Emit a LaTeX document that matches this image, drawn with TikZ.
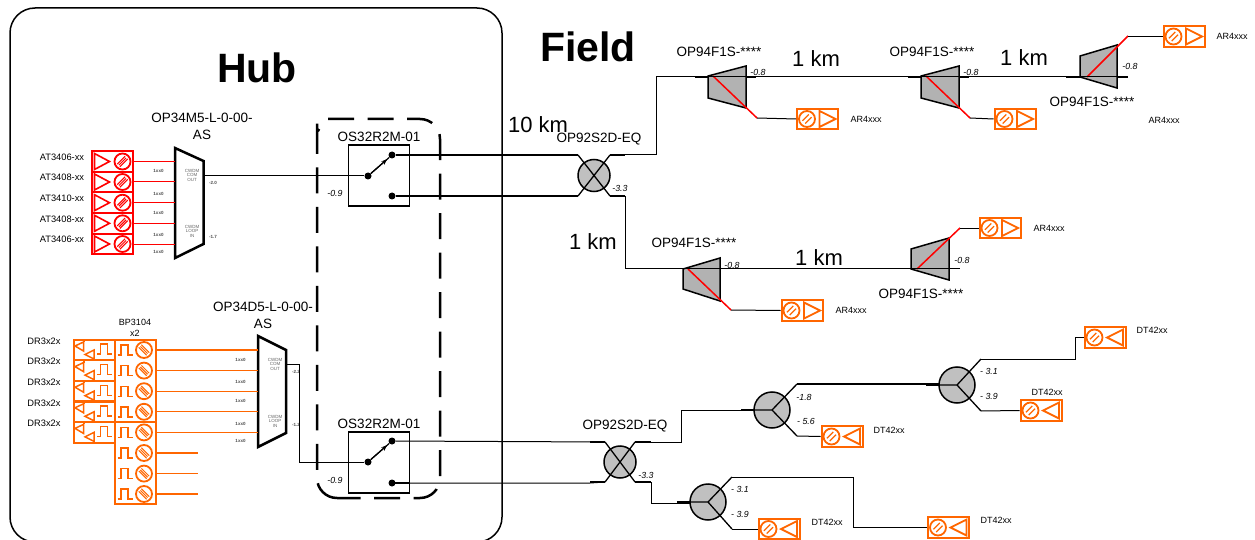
\documentclass[tikz,border=0pt]{standalone}
\usepackage{fontspec}
\setmainfont{Liberation Sans}
\usepackage{xcolor}
\usetikzlibrary{calc,arrows.meta,positioning}
\definecolor{rxorange}{RGB}{255,102,0}
\definecolor{partgray}{RGB}{178,178,178}
\definecolor{bluntgray}{RGB}{192,192,192}
\newcommand{\fsz}[1]{\fontsize{#1}{#1}\selectfont}

\begin{document}
\begin{tikzpicture}[x=1pt,y=-1pt,
  partlbl/.style={font=\fsz{13.5}, inner sep=0pt, align=center},
  kmlbl/.style={font=\fsz{22}, inner sep=0pt},
  titlelbl/.style={font=\fsz{41}\bfseries, inner sep=0pt},
  lvl/.style={font=\fsz{8.8}\itshape, inner sep=0pt},
  txlbl/.style={font=\fsz{9.3}, inner sep=0pt},
  cardlbl/.style={font=\fsz{9}, inner sep=0pt},
  tiny/.style={font=\fsz{4.5}\bfseries, inner sep=0pt, text=black!70},
  muxtxt/.style={font=\fsz{4.5}, inner sep=0pt, align=center, text=black!60},
  fib/.style={line width=1pt},
  thickfib/.style={line width=1.8pt},
  mux/.style={draw, line width=2.5pt, fill=white, line join=miter},
  filt/.style={draw, line width=1.5pt, fill=partgray},
  redtap/.style={red, line width=1.5pt},
  blob/.style={draw, circle, line width=1.5pt, fill=bluntgray, minimum size=#1, inner sep=0pt},
  swbox/.style={draw, line width=1.8pt, minimum width=61pt, minimum height=61pt, inner sep=0pt},
  pin/.style={circle, fill=black, minimum size=7pt, inner sep=0pt},
  card/.style={draw, line width=2pt, minimum width=41pt, minimum height=20.5pt, inner sep=0pt},
  dial/.pic={
    \draw[line width=1.8pt] (0,0) circle (8);
    \draw[line width=1.2pt] (-4.6,1.8) -- (1.8,-4.6) (-1.8,4.6) -- (4.6,-1.8);
  },
  dialr/.pic={
    \draw[line width=1.8pt] (0,0) circle (8);
    \draw[line width=1pt] (-5.2,2.6) -- (2.6,-5.2) (-3.6,3.6) -- (3.6,-3.6) (-2.6,5.2) -- (5.2,-2.6);
  },
  dialb/.pic={
    \draw[line width=1.8pt] (0,0) circle (8);
    \draw[line width=1pt] (-5.2,-2.6) -- (2.6,5.2) (-3.6,-3.6) -- (3.6,3.6) (-2.6,-5.2) -- (5.2,2.6);
  },
  pulse/.pic={
    \draw[line width=1.4pt] (-7.5,5) -- (-4,5) -- (-4,-5) -- (3,-5) -- (3,5) -- (7.5,5);
  },
  arcard/.pic={
    \node[card, draw=rxorange] (-box) at (0,0) {};
    \begin{scope}[rxorange]
      \pic at (-10.5,0) {dial};
      \draw[line width=1.8pt] (2,-8) -- (18,0) -- (2,8) -- cycle;
    \end{scope}
  },
  dtcard/.pic={
    \node[card, draw=rxorange] (-box) at (0,0) {};
    \begin{scope}[rxorange]
      \pic at (-10.5,0) {dial};
      \draw[line width=1.8pt] (18,-8) -- (2,0) -- (18,8) -- cycle;
    \end{scope}
  },
  atcard/.pic={
    \node[card, draw=red] (-box) at (0,0) {};
    \begin{scope}[red]
      \pic at (10,0) {dialr};
      \draw[line width=1.6pt] (-18,-8) -- (-3,0) -- (-18,8) -- cycle;
    \end{scope}
  },
  bpcard/.pic={
    \coordinate (-out) at (20.5,0);
    \begin{scope}[rxorange]
      \pic at (-11,0) {pulse};
      \pic at (8,0) {dialb};
    \end{scope}
  },
  drcard/.pic={
    \node[card, draw=rxorange] (-box) at (0,0) {};
    \begin{scope}[rxorange, line width=1.5pt]
      \draw (-10,-10.2) -- (-10,-8) (0,9) -- (0,10.2);
      \draw (-19,-4) -- (-10.5,-8) -- (-10.5,1) -- cycle;
      \draw (-9,4.5) -- (0,0) -- (0,9) -- cycle;
      \pic at (10.5,-1) {pulse};
    \end{scope}
  }
]
\clip (0,0) rectangle (1255,540);
\useasboundingbox (0,0) rectangle (1255,540);

% hub and dashed protection frame
\draw[line width=1.5pt, rounded corners=25pt] (10,8) rectangle (502,542);
\node[titlelbl] (hublbl) at (257,68) {Hub};
\node[titlelbl] (fieldlbl) at (588,47) {Field};
\draw[line width=2.5pt, dash pattern=on 26pt off 13.5pt, rounded corners=20pt]
  (328,119) -- (440,119) -- (440,498) -- (337,498);
\draw[line width=2.5pt, dash pattern=on 26pt off 13.5pt, rounded corners=20pt]
  (337,498) -- (317,498) -- (317,139) .. controls (317,135) and (318,131) .. (319,129);

% red transmitters
\foreach \n/\y/\t in {1/161.5/AT3406-xx,2/182/AT3408-xx,3/202.7/AT3410-xx,4/223.3/AT3408-xx,5/244/AT3406-xx}{
  \pic (at\n) at (112.5,\y) {atcard};
  \node[txlbl] (atl\n) at (62,\y-4.5) {\t};
}
\draw[mux] (175,148) -- (203.5,161) -- (203.5,244) -- (175,258) -- cycle;
\foreach \n/\y in {1/161.5,2/182,3/202.7,4/223.3,5/244}
  \draw[red, line width=1pt] (at\n-box.east) -- (175,\y);
\foreach \y in {171,194,213,235,252}
  \node[tiny] at (158.5,\y) {1xx0};
\node[muxtxt] (muxaout) at (192,175) {CWDM\\COM\\OUT};
\node[muxtxt] (muxain) at (192,231) {CWDM\\LOOP\\IN};
\node[tiny] at (213,183) {-2.0};
\node[tiny] at (213,237) {-1.7};
\node[partlbl] (muxalbl) at (202,126.5) {OP34M5-L-0-00-\\[3.5pt]AS};

% upper switch
\node[swbox] (swa) at (379,175.5) {};
\node[pin] (swac) at (368,176) {};
\node[pin] (swat) at (392,155) {};
\node[pin] (swab) at (392,196) {};
\draw[fib] (203.5,176) -- (swac);
\draw[line width=1.2pt] (swac) -- (swat);
\draw[-{Stealth[length=6pt]}, line width=1.2pt] (swac) -- ($(swac)!0.8!(swat)$);
\node[partlbl, above=2pt of swa] (swalbl) {OS32R2M-01};
\node[lvl] at (335,193) {-0.9};

% upper coupler
\node[blob=32pt] (cpa) at (594,175.5) {};
\draw[line width=1.3pt] (578,155) -- (610,196) (610,155) -- (578,196);
\draw[line width=1.3pt] (swat) -- (578,155);
\draw[line width=1.3pt] (swab) -- (578,196);
\draw[thickfib] (565,155) -- (578,155) (565,196) -- (578,196);
\node[partlbl] (cpalbl) at (599,139) {OP92S2D-EQ};
\node[kmlbl] (km10) at (538,125) {10 km};
\node[lvl] at (620,188) {-3.3};
\node[kmlbl] (km1a) at (593,242) {1 km};
\draw[thickfib] (610,155) -- (625,155) (610,196) -- (625,196);

% top row of filters
\foreach \dx in {0,213}{
  \draw[filt] ($(708,76)+(\dx,0)$) -- ($(746,66)+(\dx,0)$) -- ($(746,108)+(\dx,0)$) -- ($(708,98)+(\dx,0)$) -- cycle;
  \draw[redtap] ($(713,76)+(\dx,0)$) -- ($(757,118)+(\dx,0)$);
  \node[lvl] at ($(758,72)+(\dx,0)$) {-0.8};
  \node[partlbl] at ($(719,52)+(\dx,0)$) {OP94F1S-****};
}
\draw[filt] (1080,56) -- (1117,45) -- (1117,88) -- (1080,77) -- cycle;
\draw[redtap] (1087,77) -- (1128,36);
\node[lvl] at (1130,66) {-0.8};
\node[partlbl] at (1092,102) {OP94F1S-****};
\draw[fib] (625,155) -- (656,155) -- (656,77) -- (1128,77);
\draw[thickfib] (695,77) -- (708,77) (746,77) -- (756,77) (908,77) -- (921,77) (960,77) -- (969,77) (1066,77) -- (1080,77) (1117,77) -- (1128,77);
\node[kmlbl] (km1b) at (816,59) {1 km};
\node[kmlbl] (km1c) at (1024,58) {1 km};
\pic (ara) at (817.5,119) {arcard};
\pic (arb) at (1015,119) {arcard};
\pic (arc) at (1184,36.5) {arcard};
\draw[fib] (757,118) -- (ara-box.west);
\draw[fib] (970,118) -- (arb-box.west);
\draw[fib] (1128,36.5) -- (arc-box.west);
\node[cardlbl] (aral) at (866,119) {AR4xxx};
\node[cardlbl] (arbl) at (1164,120) {AR4xxx};
\node[cardlbl] (arcl) at (1232,36) {AR4xxx};

% second row of filters
\draw[filt] (683,269) -- (720,258) -- (720,301) -- (683,289) -- cycle;
\draw[redtap] (688,269) -- (731,310);
\draw[filt] (911,249) -- (949,238) -- (949,280) -- (911,269) -- cycle;
\draw[redtap] (917,269) -- (960,228);
\draw[fib] (625,196) -- (625,268.5) -- (960,268.5);
\draw[thickfib] (669,268.5) -- (683,268.5) (720,268.5) -- (731,268.5) (897,268.5) -- (911,268.5) (949,268.5) -- (960,268.5);
\node[partlbl] at (694,243) {OP94F1S-****};
\node[partlbl] at (921,294) {OP94F1S-****};
\node[lvl] at (732,265) {-0.8};
\node[lvl] at (962,260) {-0.8};
\node[kmlbl] (km1d) at (819,258) {1 km};
\pic (ard) at (802,310.5) {arcard};
\pic (are) at (1000,228) {arcard};
\draw[fib] (731,310) -- (ard-box.west);
\draw[fib] (960,228) -- (are-box.west);
\node[cardlbl] (ardl) at (851,310) {AR4xxx};
\node[cardlbl] (arel) at (1049,228) {AR4xxx};

% orange transmit side
\foreach \n/\y/\t in {1/350/DR3x2x,2/370.6/DR3x2x,3/391.2/DR3x2x,4/411.8/DR3x2x,5/432.4/DR3x2x}{
  \pic (dr\n) at (94,\y) {drcard};
  \node[txlbl] (drl\n) at (44,\y-9) {\t};
}
\draw[draw=rxorange, line width=2pt] (115,340) rectangle (156,422) (115,422) rectangle (156,504);
\foreach \n/\y in {1/350,2/370.6,3/391.2,4/411.8,5/432.4,6/453,7/473.6,8/494}
  \pic (bp\n) at (136,\y) {bpcard};
\node[font=\fsz{9}, inner sep=0pt, align=center] (bplbl) at (135,328) {BP3104\\[2pt]x2};
\draw[mux] (258,336) -- (286,350) -- (286,433) -- (258,447) -- cycle;
\foreach \n/\y in {1/350,2/370.6,3/391.2,4/411.8,5/432.4}
  \draw[rxorange, line width=1.1pt] (bp\n-out) -- (258,\y);
\foreach \n in {6,7,8}
  \draw[rxorange, line width=1.1pt] (bp\n-out) -- ++(41,0);
\foreach \y in {360,382,401,424,441}
  \node[tiny] at (240.5,\y) {1xx0};
\node[muxtxt] (muxbout) at (275,364) {CWDM\\COM\\OUT};
\node[muxtxt] (muxbin) at (275,421) {CWDM\\LOOP\\IN};
\node[tiny] at (296,372) {-2.2};
\node[tiny] at (296,425) {-1.2};
\node[partlbl] (muxblbl) at (263,315) {OP34D5-L-0-00-\\[3.5pt]AS};

% lower switch
\node[swbox] (swb) at (379,462.5) {};
\node[pin] (swbc) at (368,462) {};
\node[pin] (swbt) at (392,441) {};
\node[pin] (swbb) at (392,483) {};
\draw[fib] (286,364) -- (299,364) -- (299,462) -- (swbc);
\draw[line width=1.2pt] (swbc) -- (swbt);
\draw[-{Stealth[length=6pt]}, line width=1.2pt] (swbc) -- ($(swbc)!0.8!(swbt)$);
\node[partlbl, above=2pt of swb] (swblbl) {OS32R2M-01};
\node[lvl] at (335,480) {-0.9};

% lower coupler
\node[blob=32pt] (cpb) at (620,462) {};
\draw[line width=1.3pt] (605,442) -- (635,482) (635,442) -- (605,482);
\draw[fib] (swbt) -- (605,442);
\draw[fib] (swbb) -- (590,483) -- (605,482);
\draw[thickfib] (392,483) -- (410,483);
\draw[thickfib] (590,442) -- (605,442) (590,482) -- (605,482);
\node[partlbl] (cpblbl) at (625,426) {OP92S2D-EQ};
\node[lvl] at (646,475) {-3.3};
\draw[thickfib] (635,442) -- (651,442) (635,482) -- (651,482);

% splitters
\node[blob=36pt] (spa) at (772,410) {};
\node[blob=36pt] (spb) at (957,385) {};
\node[blob=36pt] (spc) at (708,502) {};
\draw[line width=1.3pt] (754,410) -- (772,410) -- (797,384);
\draw[line width=1.3pt] (772,410) -- (797,436);
\draw[line width=1.3pt] (939,385) -- (957,385) -- (981,359);
\draw[line width=1.3pt] (957,385) -- (981,411);
\draw[line width=1.3pt] (690,502) -- (708,502) -- (732,477);
\draw[line width=1.3pt] (708,502) -- (732,529);
\draw[fib] (651,442) -- (681,442) -- (681,410) -- (754,410);
\draw[fib] (651,482) -- (651,503) -- (690,503);
\draw[line width=1.3pt] (797,384) -- (939,384);
\draw[thickfib] (741,410) -- (754,410) (926,385) -- (939,385) (677,502) -- (690,502);
\node[lvl] at (804,397) {-1.8};
\node[lvl] at (806,421) {- 5.6};
\node[lvl] at (989,371) {- 3.1};
\node[lvl] at (989,396) {- 3.9};
\node[lvl] at (740,489) {- 3.1};
\node[lvl] at (740,514) {- 3.9};
\pic (dta) at (842,436.5) {dtcard};
\pic (dtb) at (1105,337.5) {dtcard};
\pic (dtc) at (1041,410.5) {dtcard};
\pic (dtd) at (779,529) {dtcard};
\pic (dte) at (948.5,527.5) {dtcard};
\draw[fib] (797,436) -- (dta-box.west);
\draw[fib] (981,359) -- (1075,359) -- (1075,337.5) -- (dtb-box.west);
\draw[fib] (981,411) -- (dtc-box.west);
\draw[fib] (732,529) -- (dtd-box.west);
\draw[fib] (732,477) -- (853,477) -- (853,527.5) -- (dte-box.west);
\node[cardlbl] (dtal) at (889,430) {DT42xx};
\node[cardlbl] (dtbl) at (1152,330) {DT42xx};
\node[cardlbl] (dtcl) at (1047,392) {DT42xx};
\node[cardlbl] (dtdl) at (827,522) {DT42xx};
\node[cardlbl] (dtel) at (996,520) {DT42xx};
\end{tikzpicture}
\end{document}
